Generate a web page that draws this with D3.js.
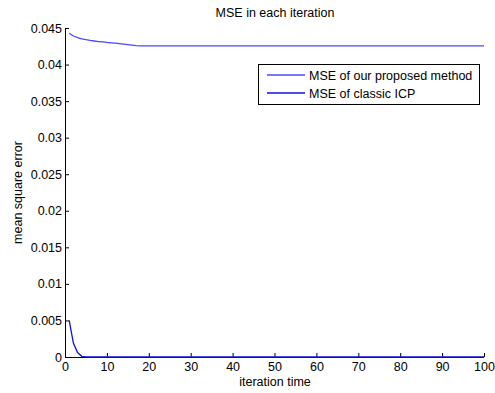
<!DOCTYPE html>
<html lang="en">
<head>
    <title>MSE in each iteration</title>
    <script src="https://d3js.org/d3.v7.min.js" charset="utf-8"></script>
    <style>
        body { margin: 0; background: #fff; }
        text { font-family: "Liberation Sans", Arial, sans-serif; fill: #000; }
    </style>
</head>
<body>

<script>

    var w = 495;
    var h = 393;

    // data
    var iterations = d3.range(1, 101);
    var proposed = [0.04428, 0.04390, 0.04368, 0.04352, 0.04340, 0.04330, 0.04322, 0.04315, 0.04309, 0.04302,
                    0.04297, 0.04292, 0.04286, 0.04280, 0.04273, 0.04266, 0.04258, 0.04256, 0.04256, 0.04256,
                    0.04256, 0.04256, 0.04256, 0.04256, 0.04256, 0.04256, 0.04256, 0.04256, 0.04256, 0.04256,
                    0.04256, 0.04256, 0.04256, 0.04256, 0.04256, 0.04256, 0.04256, 0.04256, 0.04256, 0.04256,
                    0.04256, 0.04256, 0.04256, 0.04256, 0.04256, 0.04256, 0.04256, 0.04256, 0.04256, 0.04256,
                    0.04256, 0.04256, 0.04256, 0.04256, 0.04256, 0.04256, 0.04256, 0.04256, 0.04256, 0.04256,
                    0.04256, 0.04256, 0.04256, 0.04256, 0.04256, 0.04256, 0.04256, 0.04256, 0.04256, 0.04256,
                    0.04256, 0.04256, 0.04256, 0.04256, 0.04256, 0.04256, 0.04256, 0.04256, 0.04256, 0.04256,
                    0.04256, 0.04256, 0.04256, 0.04256, 0.04256, 0.04256, 0.04256, 0.04256, 0.04256, 0.04256,
                    0.04256, 0.04256, 0.04256, 0.04256, 0.04256, 0.04256, 0.04256, 0.04256, 0.04256, 0.04256];
    var classic = [0.0050, 0.0019, 0.0006, 0.0001, 0.00002, 0, 0, 0, 0, 0,
                   0, 0, 0, 0, 0, 0, 0, 0, 0, 0,
                   0, 0, 0, 0, 0, 0, 0, 0, 0, 0,
                   0, 0, 0, 0, 0, 0, 0, 0, 0, 0,
                   0, 0, 0, 0, 0, 0, 0, 0, 0, 0,
                   0, 0, 0, 0, 0, 0, 0, 0, 0, 0,
                   0, 0, 0, 0, 0, 0, 0, 0, 0, 0,
                   0, 0, 0, 0, 0, 0, 0, 0, 0, 0,
                   0, 0, 0, 0, 0, 0, 0, 0, 0, 0,
                   0, 0, 0, 0, 0, 0, 0, 0, 0, 0];
    var seriesNames = ["MSE of our proposed method", "MSE of classic ICP"];
    var seriesColours = ["#4848ff", "#1010e0"];
    var xTicks = [0, 10, 20, 30, 40, 50, 60, 70, 80, 90, 100];
    var yTicks = [0, 0.005, 0.01, 0.015, 0.02, 0.025, 0.03, 0.035, 0.04, 0.045];

    var mLeft = 65, mRight = 484, mTop = 28, mBottom = 357;
    var fs = 12.5;

    var svg = d3.select("body")
        .append("svg")
        .attr("width", w)
        .attr("height", h);

    var x = d3.scaleLinear().domain([0, 100]).range([mLeft, mRight]);
    var y = d3.scaleLinear().domain([0, 0.045]).range([mBottom, mTop]);

    var line = d3.line()
        .x(function(d, i) { return x(iterations[i]); })
        .y(function(d) { return y(d); });

    var series = [proposed, classic];

    // axes, ticks point inward like matlab
    var xAxis = d3.axisBottom(x).tickValues(xTicks).tickSize(-4).tickPadding(5)
        .tickFormat(d3.format("d"));
    var yAxis = d3.axisLeft(y).tickValues(yTicks).tickSize(-4).tickPadding(3)
        .tickFormat(function(d) { return d === 0 ? "0" : String(+d.toFixed(3)); });

    var gx = svg.append("g").attr("transform", "translate(0," + mBottom + ")").call(xAxis);
    var gy = svg.append("g").attr("transform", "translate(" + mLeft + ",0)").call(yAxis);

    [gx, gy].forEach(function(g) {
        g.select(".domain").attr("stroke", "#000").attr("stroke-width", 1);
        g.selectAll(".tick line").attr("stroke", "#000");
        g.selectAll(".tick text").attr("font-size", fs).attr("font-family", "Liberation Sans, Arial, sans-serif");
    });
    gx.select(".domain").attr("d", "M" + mLeft + ",0.5H" + mRight);
    gy.select(".domain").attr("d", "M0.5," + mBottom + "V" + mTop);

    series.forEach(function(s, i) {
        svg.append("path")
            .attr("d", line(s))
            .attr("fill", "none")
            .attr("stroke", seriesColours[i])
            .attr("stroke-width", 1.3);
    });

    // title and labels
    svg.append("text").attr("x", 275).attr("y", 17).attr("text-anchor", "middle")
        .attr("font-size", fs).text("MSE in each iteration");
    svg.append("text").attr("x", 275).attr("y", 386).attr("text-anchor", "middle")
        .attr("font-size", fs).text("iteration time");
    svg.append("text").attr("transform", "translate(22," + ((mTop + mBottom) / 2) + ") rotate(-90)")
        .attr("text-anchor", "middle").attr("font-size", fs).text("mean square error");

    // legend
    var legend = svg.append("g");
    legend.append("rect")
        .attr("x", 258.5).attr("y", 64.5).attr("width", 221).attr("height", 40)
        .attr("fill", "#fff").attr("stroke", "#000").attr("stroke-width", 1);
    seriesNames.forEach(function(name, i) {
        var ly = 75 + i * 18;
        legend.append("line")
            .attr("x1", 267).attr("x2", 305).attr("y1", ly).attr("y2", ly)
            .attr("stroke", seriesColours[i]).attr("stroke-width", 1.3);
        legend.append("text").attr("x", 309).attr("y", ly + 4.5)
            .attr("font-size", fs).text(name);
    });
</script>
</body>
</html>
